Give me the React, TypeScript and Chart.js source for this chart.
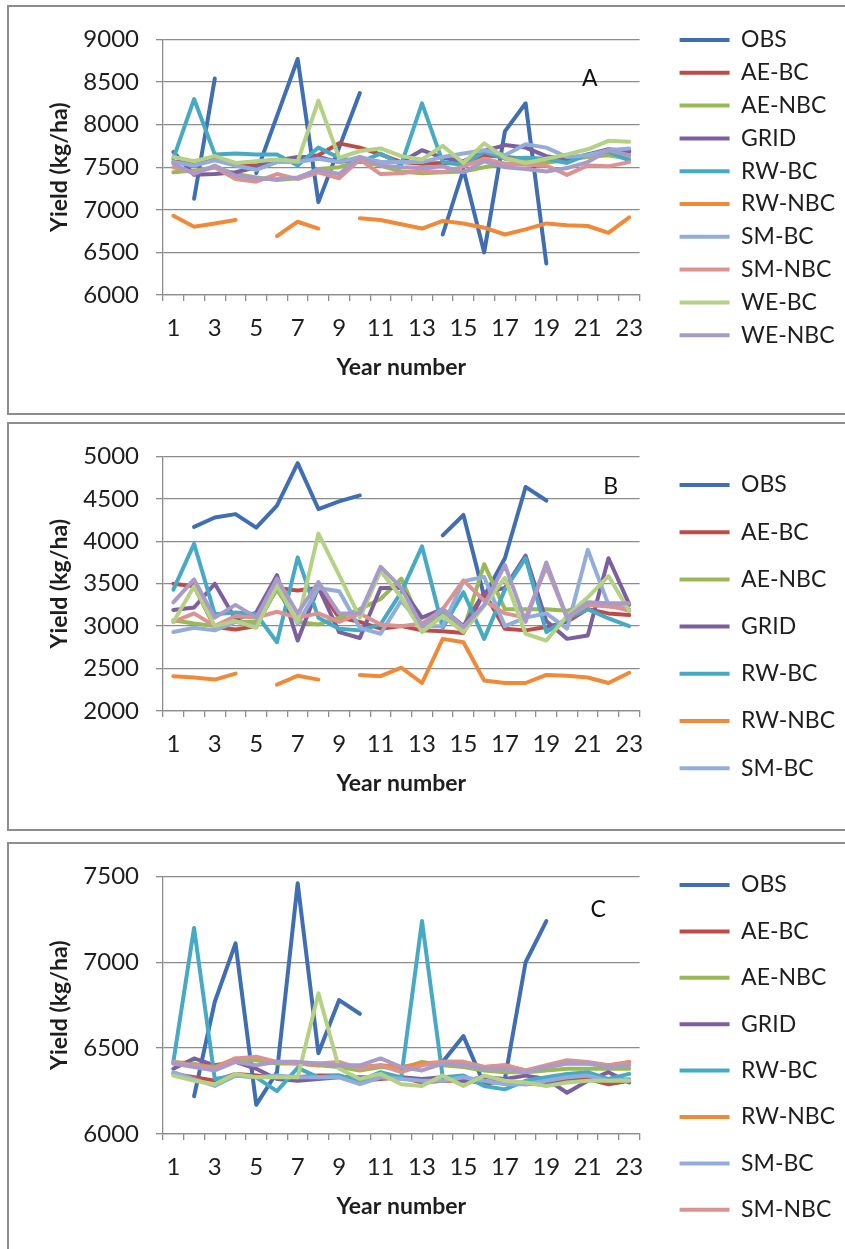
import React, { useEffect, useRef } from 'react';
import { Chart, registerables } from 'chart.js';

Chart.register(...registerables);

// ---------- data ----------
const YEARS = ['1', '2', '3', '4', '5', '6', '7', '8', '9', '10', '11', '12', '13', '14', '15', '16', '17', '18', '19', '20', '21', '22', '23'];
const SERIES = ['OBS', 'AE-BC', 'AE-NBC', 'GRID', 'RW-BC', 'RW-NBC', 'SM-BC', 'SM-NBC', 'WE-BC', 'WE-NBC'];
const COLORS = ['#406EB3', '#BE4B48', '#98B954', '#7D5FA0', '#46AAC5', '#F08A38', '#93ADDB', '#DB9391', '#B4D184', '#A99BC8'];

// Panel A
const OBS_A = [null, 7130, 8540, null, 7430, 8100, 8770, 7090, 7730, 8370, null, null, null, 6710, 7470, 6500, 7920, 8250, 6370, null, null, null, null];
const AE_BC_A = [7560, 7560, 7600, 7530, 7520, 7560, 7600, 7640, 7780, 7730, 7650, 7560, 7540, 7550, 7540, 7640, 7620, 7600, 7560, 7580, 7640, 7700, 7680];
const AE_NBC_A = [7440, 7460, 7500, 7420, 7380, 7350, 7370, 7480, 7500, 7570, 7520, 7450, 7430, 7440, 7450, 7500, 7540, 7560, 7560, 7590, 7620, 7640, 7600];
const GRID_A = [7680, 7410, 7420, 7440, 7500, 7580, 7620, 7620, 7560, 7600, 7560, 7560, 7700, 7610, 7570, 7690, 7760, 7730, 7630, 7590, 7650, 7710, 7690];
const RW_BC_A = [7600, 8300, 7650, 7660, 7650, 7650, 7520, 7730, 7610, 7560, 7660, 7530, 8250, 7560, 7530, 7680, 7600, 7610, 7600, 7550, 7650, 7680, 7580];
const RW_NBC_A = [6930, 6800, 6840, 6880, null, 6690, 6860, 6780, null, 6900, 6880, 6830, 6780, 6870, 6840, 6790, 6710, 6770, 6840, 6820, 6810, 6730, 6910];
const SM_BC_A = [7560, 7520, 7580, 7520, 7470, 7560, 7560, 7600, 7560, 7620, 7560, 7560, 7560, 7620, 7660, 7700, 7640, 7770, 7730, 7620, 7640, 7700, 7720];
const SM_NBC_A = [7500, 7440, 7500, 7360, 7330, 7420, 7360, 7440, 7370, 7590, 7420, 7430, 7460, 7440, 7510, 7600, 7540, 7530, 7520, 7410, 7520, 7510, 7560];
const WE_BC_A = [7620, 7570, 7630, 7550, 7570, 7590, 7570, 8280, 7610, 7690, 7720, 7630, 7590, 7750, 7550, 7780, 7610, 7550, 7600, 7650, 7710, 7810, 7800];
const WE_NBC_A = [7540, 7420, 7520, 7400, 7370, 7360, 7380, 7470, 7420, 7620, 7520, 7500, 7490, 7510, 7440, 7570, 7500, 7480, 7450, 7490, 7560, 7700, 7640];

// Panel B
const OBS_B = [null, 4170, 4280, 4320, 4160, 4420, 4920, 4380, 4470, 4540, null, null, null, 4070, 4310, 3350, 3800, 4640, 4480, null, null, null, null];
const AE_BC_B = [3500, 3470, 2990, 2960, 3000, 3450, 3420, 3450, 3100, 3050, 2970, 3000, 2950, 2940, 2920, 3400, 2970, 2950, 2990, 3050, 3200, 3150, 3130];
const AE_NBC_B = [3070, 3030, 3000, 3050, 3050, 3430, 3050, 3020, 3100, 3200, 3320, 3560, 3000, 3150, 2950, 3730, 3200, 3200, 3200, 3180, 3260, 3260, 3250];
const GRID_B = [3190, 3220, 3500, 3080, 3160, 3600, 2830, 3460, 2930, 2860, 3450, 3450, 3100, 3200, 3000, 3400, 3450, 3830, 3060, 2850, 2890, 3800, 3260];
const RW_BC_B = [3430, 3970, 3140, 3160, 3140, 2810, 3810, 3100, 2970, 2950, 3020, 3400, 3940, 2980, 3400, 2850, 3430, 3800, 2930, 3090, 3200, 3090, 3000];
const RW_NBC_B = [2410, 2395, 2370, 2440, null, 2310, 2415, 2370, null, 2425, 2410, 2510, 2330, 2850, 2810, 2360, 2330, 2330, 2425, 2415, 2395, 2330, 2450];
const SM_BC_B = [2930, 2980, 2950, 3050, 3000, 3480, 3030, 3450, 3410, 2980, 2910, 3300, 3000, 3000, 3530, 3580, 3000, 3100, 3150, 2970, 3900, 3250, 3180];
const SM_NBC_B = [3050, 3150, 3000, 3120, 3100, 3170, 3100, 3150, 3050, 3150, 3020, 3000, 3030, 3200, 3540, 3300, 3150, 3100, 3700, 3100, 3250, 3230, 3200];
const WE_BC_B = [3050, 3470, 3000, 3060, 2980, 3480, 3050, 4090, 3600, 3100, 3650, 3340, 2930, 3120, 2930, 3240, 3570, 2910, 2830, 3120, 3340, 3590, 3180];
const WE_NBC_B = [3280, 3550, 3100, 3250, 3100, 3560, 3150, 3520, 3150, 3150, 3700, 3450, 3000, 3200, 2990, 3250, 3720, 3050, 3750, 3100, 3280, 3270, 3270];

// Panel C
const OBS_C = [null, 6220, 6770, 7110, 6170, 6360, 7460, 6470, 6780, 6700, null, null, null, 6420, 6570, 6290, 6320, 7000, 7240, null, null, null, null];
const AE_BC_C = [6350, 6330, 6310, 6350, 6340, 6330, 6330, 6340, 6340, 6310, 6320, 6330, 6300, 6310, 6310, 6300, 6300, 6290, 6300, 6310, 6320, 6290, 6310];
const AE_NBC_C = [6420, 6410, 6380, 6430, 6430, 6410, 6410, 6400, 6390, 6370, 6390, 6380, 6420, 6400, 6390, 6370, 6360, 6360, 6370, 6380, 6380, 6380, 6380];
const GRID_C = [6380, 6440, 6400, 6420, 6380, 6320, 6310, 6320, 6330, 6330, 6330, 6330, 6320, 6330, 6310, 6330, 6320, 6340, 6320, 6240, 6310, 6360, 6300];
const RW_BC_C = [6420, 7200, 6320, 6340, 6330, 6250, 6385, 6330, 6340, 6310, 6360, 6330, 7240, 6330, 6340, 6280, 6260, 6310, 6330, 6350, 6360, 6320, 6350];
const RW_NBC_C = [6410, 6400, 6390, 6440, null, 6420, 6410, 6400, null, 6390, 6400, 6390, 6410, 6420, 6420, 6390, 6400, 6370, 6390, 6410, 6410, 6400, 6420];
const SM_BC_C = [6360, 6320, 6280, 6340, 6330, 6340, 6330, 6330, 6330, 6290, 6330, 6320, 6310, 6310, 6330, 6310, 6290, 6290, 6310, 6330, 6340, 6310, 6320];
const SM_NBC_C = [6420, 6400, 6380, 6440, 6450, 6420, 6410, 6410, 6420, 6380, 6400, 6360, 6400, 6420, 6420, 6390, 6400, 6370, 6400, 6430, 6420, 6400, 6410];
const WE_BC_C = [6340, 6310, 6290, 6350, 6330, 6330, 6330, 6820, 6380, 6320, 6350, 6290, 6280, 6340, 6280, 6340, 6310, 6300, 6280, 6300, 6310, 6310, 6310];
const WE_NBC_C = [6410, 6390, 6370, 6420, 6400, 6420, 6420, 6410, 6400, 6400, 6440, 6390, 6370, 6410, 6400, 6380, 6380, 6360, 6390, 6410, 6410, 6390, 6400];

const Y_RANGE_A = [6000, 9000];
const Y_RANGE_B = [2000, 5000];
const Y_RANGE_C = [6000, 7500];
const Y_STEP = 500;

// ---------- layout / style ----------
const FONT = 'Lato, "Open Sans", "DejaVu Sans", sans-serif';
const TICK_SIZE = 24;
const LEGEND_SIZE = 23;
const TITLE_SIZE = 23;
const GRID_COLOR = '#8c8c8c';
const TEXT_COLOR = '#1e1e1e';
const CANVAS_LEFT = 9;
const CANVAS_W = 836;
const CANVAS_H = 404;
const CHART_LEFT = 163;
const CHART_RIGHT = 640;
const LEGEND_LINE_X = 680;
const LEGEND_LINE_W = 50;
const X_AXIS_H = 115;

type Spec = {
  letter: string;
  series: (number | null)[][];
  range: number[];
  letterAt: number[];
  legendCount: number;
  panelTop: number;
  panelH: number;
  chartTop: number;
  chartBottom: number;
  legendFirst: number;
  legendGap: number;
};

const PANELS: Spec[] = [
  {
    letter: 'A',
    series: [OBS_A, AE_BC_A, AE_NBC_A, GRID_A, RW_BC_A, RW_NBC_A, SM_BC_A, SM_NBC_A, WE_BC_A, WE_NBC_A],
    range: Y_RANGE_A, letterAt: [20.1, 8540], legendCount: 10,
    panelTop: 5, panelH: 410, chartTop: 35, chartBottom: 295, legendFirst: 40, legendGap: 32.8,
  },
  {
    letter: 'B',
    series: [OBS_B, AE_BC_B, AE_NBC_B, GRID_B, RW_BC_B, RW_NBC_B, SM_BC_B, SM_NBC_B, WE_BC_B, WE_NBC_B],
    range: Y_RANGE_B, letterAt: [21.1, 4650], legendCount: 7,
    panelTop: 422, panelH: 409, chartTop: 452, chartBottom: 711, legendFirst: 485, legendGap: 47.2,
  },
  {
    letter: 'C',
    series: [OBS_C, AE_BC_C, AE_NBC_C, GRID_C, RW_BC_C, RW_NBC_C, SM_BC_C, SM_NBC_C, WE_BC_C, WE_NBC_C],
    range: Y_RANGE_C, letterAt: [20.5, 7305], legendCount: 8,
    panelTop: 842, panelH: 430, chartTop: 871, chartBottom: 1134, legendFirst: 885, legendGap: 46.4,
  },
];

const letterPlugin = {
  id: 'panelLetter',
  afterDatasetsDraw(chart: any, _args: any, opts: any) {
    const { ctx, scales } = chart;
    ctx.save();
    ctx.font = `23px ${FONT}`;
    ctx.fillStyle = '#111';
    ctx.textAlign = 'center';
    ctx.textBaseline = 'middle';
    ctx.fillText(opts.text, scales.x.getPixelForValue(opts.at[0]), scales.y.getPixelForValue(opts.at[1]));
    ctx.restore();
  },
};

function maxTextWidth(texts: string[], font: string) {
  const c = document.createElement('canvas').getContext('2d');
  if (!c) return 90;
  c.font = font;
  return Math.max(...texts.map((t) => c.measureText(t).width));
}

function Panel({ spec }: { spec: Spec }) {
  const ref = useRef<HTMLCanvasElement | null>(null);
  const canvasTop = spec.panelTop + 3;

  useEffect(() => {
    const canvas = ref.current;
    if (!canvas) return;
    const pad = spec.legendGap - LEGEND_SIZE;
    const legendTitleH = spec.legendFirst - canvasTop - pad - LEGEND_SIZE / 2;
    const textW = maxTextWidth(SERIES.slice(0, spec.legendCount), `normal ${LEGEND_SIZE}px ${FONT}`);
    const legendNatural = pad + LEGEND_LINE_W + LEGEND_SIZE / 2 + textW + 10;
    const legendLeft = LEGEND_LINE_X - pad;
    const padRight = Math.max(0, CANVAS_LEFT + CANVAS_W - legendLeft - legendNatural);
    const spacerW = legendLeft - CHART_RIGHT;
    const padBottom = Math.max(0, CANVAS_H - (spec.chartBottom - canvasTop) - X_AXIS_H);
    const topBox = spec.chartTop - canvasTop;
    const n = SERIES.length;

    const chart = new Chart(canvas, {
      type: 'line',
      data: {
        labels: YEARS,
        datasets: SERIES.map((name, i) => ({
          label: name,
          data: spec.series[i],
          borderColor: COLORS[i],
          backgroundColor: COLORS[i],
          borderWidth: 4,
          pointRadius: 0,
          pointHoverRadius: 0,
          tension: 0,
          spanGaps: false,
          borderCapStyle: 'round',
          borderJoinStyle: 'round',
          order: n - i,
        })),
      },
      plugins: [letterPlugin],
      options: {
        responsive: false,
        animation: false,
        events: [],
        layout: { padding: { left: 0, top: 0, right: padRight, bottom: padBottom } },
        plugins: {
          tooltip: { enabled: false },
          title: {
            display: true,
            text: '',
            font: { size: 1 },
            padding: { top: topBox - 1.2, bottom: 0 },
          },
          legend: {
            display: true,
            position: 'right',
            align: 'start',
            maxWidth: 400,
            title: {
              display: legendTitleH > 1.2,
              text: '',
              font: { size: 1 },
              padding: { top: Math.max(0, legendTitleH - 1.2), bottom: 0 },
            },
            labels: {
              usePointStyle: true,
              pointStyle: 'line',
              pointStyleWidth: LEGEND_LINE_W,
              padding: pad,
              color: TEXT_COLOR,
              font: { family: FONT, size: LEGEND_SIZE },
              filter: (item: any) => item.datasetIndex < spec.legendCount,
              sort: (a: any, b: any) => a.datasetIndex - b.datasetIndex,
            },
          },
          panelLetter: { text: spec.letter, at: spec.letterAt },
        } as any,
        scales: {
          x: {
            type: 'category',
            offset: true,
            grid: {
              display: true,
              drawOnChartArea: false,
              drawTicks: true,
              tickLength: 6,
              offset: true,
              color: GRID_COLOR,
              lineWidth: 1.3,
            },
            border: { display: true, color: GRID_COLOR, width: 1.3 },
            ticks: {
              autoSkip: false,
              maxRotation: 0,
              minRotation: 0,
              padding: 12.6,
              color: TEXT_COLOR,
              font: { family: FONT, size: TICK_SIZE },
              callback: (_v: any, idx: number) => (idx % 2 === 0 ? YEARS[idx] : ''),
            },
            title: {
              display: true,
              text: 'Year number',
              color: TEXT_COLOR,
              font: { family: FONT, size: TITLE_SIZE, weight: 'bold' },
              padding: { top: 0, bottom: X_AXIS_H - 13.8 - 73 },
            },
            afterFit: (s: any) => {
              s.height = X_AXIS_H;
            },
          },
          y: {
            type: 'linear',
            position: 'left',
            min: spec.range[0],
            max: spec.range[1],
            grid: {
              display: true,
              drawOnChartArea: true,
              drawTicks: true,
              tickLength: 7,
              color: GRID_COLOR,
              lineWidth: 1.3,
            },
            border: { display: true, color: GRID_COLOR, width: 1.3 },
            ticks: {
              stepSize: Y_STEP,
              padding: 17,
              color: TEXT_COLOR,
              font: { family: FONT, size: TICK_SIZE },
              callback: (v: any) => String(v),
            },
            title: {
              display: true,
              text: 'Yield (kg/ha)',
              color: TEXT_COLOR,
              font: { family: FONT, size: TITLE_SIZE, weight: 'bold' },
              padding: { top: 36.5, bottom: 0 },
            },
            afterFit: (s: any) => {
              s.width = CHART_LEFT - CANVAS_LEFT;
            },
          },
          spacer: {
            type: 'linear',
            position: 'right',
            display: true,
            grid: { display: false, drawTicks: false },
            border: { display: false },
            ticks: { display: false },
            afterFit: (s: any) => {
              s.width = spacerW;
            },
          },
        },
      } as any,
    });
    return () => chart.destroy();
  }, [spec, canvasTop]);

  return (
    <>
      <div
        style={{
          position: 'absolute',
          left: 7,
          top: spec.panelTop,
          width: 880,
          height: spec.panelH,
          border: '2px solid #8d8d8d',
          boxSizing: 'border-box',
          background: '#fff',
        }}
      />
      <canvas
        ref={ref}
        width={CANVAS_W}
        height={CANVAS_H}
        style={{
          position: 'absolute',
          left: CANVAS_LEFT,
          top: canvasTop,
          width: CANVAS_W,
          height: CANVAS_H,
          display: 'block',
        }}
      />
    </>
  );
}

export default function App() {
  return (
    <div
      style={{
        position: 'absolute',
        left: 0,
        top: 0,
        width: 845,
        height: 1249,
        overflow: 'hidden',
        background: '#fff',
      }}
    >
      {PANELS.map((p) => (
        <Panel key={p.letter} spec={p} />
      ))}
    </div>
  );
}
